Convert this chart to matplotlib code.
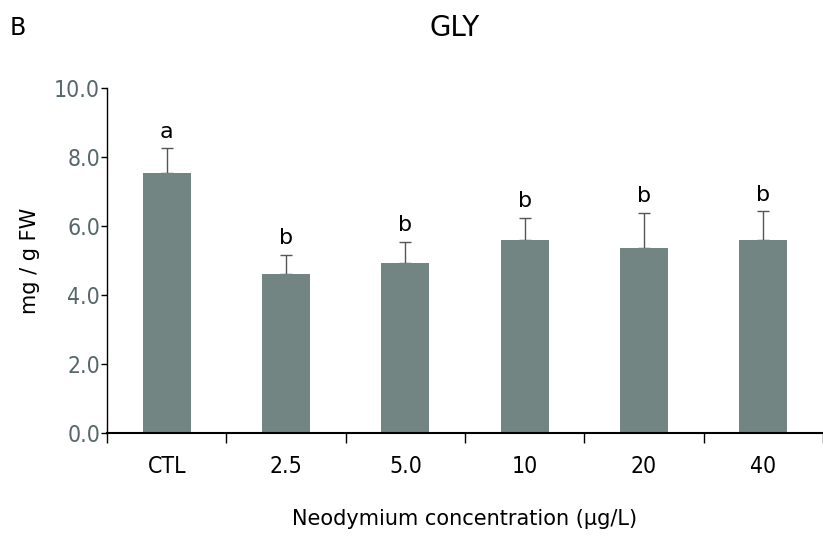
import numpy as np
import matplotlib.pyplot as plt

# data
groups = ["CTL", "2.5", "5.0", "10", "20", "40"]
means = [7.55, 4.60, 4.93, 5.58, 5.35, 5.58]
errs = [0.70, 0.55, 0.60, 0.65, 1.03, 0.84]
letters = ["a", "b", "b", "b", "b", "b"]
yticks = [0.0, 2.0, 4.0, 6.0, 8.0, 10.0]

bar_color = "#728582"
plt.rcParams['font.family'] = ['DejaVu Sans']

fig = plt.figure(figsize=(8.23, 5.37), dpi=100)
ax = fig.add_axes([0.130, 0.194, 0.870, 0.642])

x = np.arange(len(groups))
ax.bar(x, means, width=0.4, color=bar_color, zorder=2)
# lower half of the error bar sits behind the bar
ax.errorbar(x, means, yerr=[np.zeros(len(errs)), errs], fmt='none',
            ecolor="#555555", elinewidth=1, capsize=4, capthick=1, zorder=1)

for xi, m, e, l in zip(x, means, errs, letters):
    ax.text(xi, m + e + 0.2, l, ha='center', va='bottom', fontsize=16)

ax.set_xlim(-0.5, 5.47)
ax.set_ylim(0, 10)
ax.set_yticks(yticks)
ax.set_yticklabels(["%.1f" % v for v in yticks], color="#56666a", fontsize=16.5,
                   stretch='condensed')
ax.set_xticks(x)
ax.set_xticklabels(groups, fontsize=16.5, stretch='condensed')
ax.tick_params(axis='x', which='major', length=0, pad=16)
ax.set_xticks(np.arange(-0.5, 6, 1), minor=True)
ax.tick_params(axis='x', which='minor', length=7, width=1, direction='out')
ax.tick_params(axis='y', length=4, width=1, direction='out', pad=1)

for s in ["top", "right"]:
    ax.spines[s].set_visible(False)
ax.spines["bottom"].set_linewidth(1.5)
ax.spines["left"].set_linewidth(1)

ax.set_ylabel("mg / g FW", fontsize=15, labelpad=10)
ax.set_xlabel("Neodymium concentration (µg/L)", fontsize=15, labelpad=22)

fig.text(0.012, 0.948, "B", fontsize=17, va='center')
fig.text(0.553, 0.948, "GLY", fontsize=20, va='center', ha='center')

fig.savefig("out.png", dpi=100)
